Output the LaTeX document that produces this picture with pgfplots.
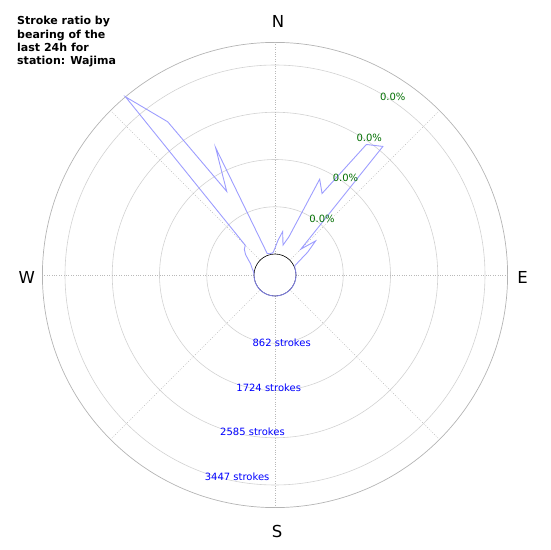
\documentclass[border=0pt]{standalone}
\usepackage{fontspec}
\setmainfont{DejaVu Sans}
\usepackage{pgfplots}
\usepackage{pgfplotstable}
\pgfplotsset{compat=1.18}
\definecolor{lineblue}{RGB}{140,140,255}
\definecolor{lblgreen}{RGB}{0,110,0}
\definecolor{ringgray}{RGB}{210,210,210}
\definecolor{outergray}{RGB}{180,180,180}
\definecolor{spokegray}{RGB}{185,185,185}

% bearing (deg) and stroke count per bearing bin
\pgfplotstableread{
b s
0 109
5 255
10 420
15 182
20 357
25 1545
30 1333
35 2523
40 2678
45 285
50 584
55 347
60 128
65 18
70 0
75 0
80 0
85 0
90 0
95 0
100 0
105 0
110 0
115 0
120 0
125 0
130 0
135 0
140 0
145 0
150 0
155 0
160 0
165 0
170 0
175 0
180 0
185 0
190 0
195 0
200 0
205 0
210 0
215 0
220 0
225 0
230 0
235 0
240 0
245 0
250 0
255 0
260 0
265 0
270 0
275 4
280 18
285 46
290 73
295 109
300 182
305 274
310 347
315 383
320 3860
325 3028
330 1377
335 2180
340 36
345 18
350 18
355 26
360 109
}\strokes

\begin{document}
\begin{tikzpicture}
\useasboundingbox (0,0) rectangle (550pt,550pt);
\begin{axis}[
  at={(0,0)}, anchor=south west,
  scale only axis, width=550pt, height=550pt,
  xmin=-275, xmax=275, ymin=-275, ymax=275,
  hide axis, clip=false,
]
% grid rings
\foreach \r in {68.25,115.5,162.75,210} {
  \edef\tmp{\noexpand\draw[ringgray, line width=0.6pt] (axis cs:0,0) circle[radius=\r];}\tmp
}
\draw[outergray, line width=0.7pt] (axis cs:0,0) circle[radius=232.6];
% spokes
\foreach \a in {0,45,...,315} {
  \edef\tmp{\noexpand\draw[spokegray, line width=0.45pt, dash pattern=on 0.8pt off 1.6pt]
    (axis cs:{21*sin(\a)},{21*cos(\a)}) -- (axis cs:{232.6*sin(\a)},{232.6*cos(\a)});}\tmp
}
% hole
\draw[black, line width=0.6pt] (axis cs:0,0) circle[radius=21];
% data
\addplot[lineblue, line width=0.9pt, mark=none, opacity=0.85]
  table[x expr={(21+0.05483*\thisrow{s})*sin(\thisrow{b})},
        y expr={(21+0.05483*\thisrow{s})*cos(\thisrow{b})}] {\strokes};
% compass labels
\node[inner sep=0, font=\fontsize{16.5}{18}\selectfont] at (axis cs:3,253.6) {N};
\node[inner sep=0, font=\fontsize{16.5}{18}\selectfont] at (axis cs:2,-256.4) {S};
\node[inner sep=0, font=\fontsize{16.5}{18}\selectfont] at (axis cs:-248.3,-2) {W};
\node[inner sep=0, font=\fontsize{16.5}{18}\selectfont] at (axis cs:247.6,-2) {E};
% percentage labels
\node[inner sep=0, text=lblgreen, font=\fontsize{10}{12}\selectfont] at (axis cs:117.8,178.5) {0.0\%};
\node[inner sep=0, text=lblgreen, font=\fontsize{10}{12}\selectfont] at (axis cs:94.3,137.5) {0.0\%};
\node[inner sep=0, text=lblgreen, font=\fontsize{10}{12}\selectfont] at (axis cs:70.5,96.8) {0.0\%};
\node[inner sep=0, text=lblgreen, font=\fontsize{10}{12}\selectfont] at (axis cs:47,55.8) {0.0\%};
% stroke labels
\node[inner sep=0, text=blue, font=\fontsize{10}{12}\selectfont] at (axis cs:6.7,-67.7) {862 strokes};
\node[inner sep=0, text=blue, font=\fontsize{10}{12}\selectfont] at (axis cs:-6.3,-112.6) {1724 strokes};
\node[inner sep=0, text=blue, font=\fontsize{10}{12}\selectfont] at (axis cs:-22.5,-156.8) {2585 strokes};
\node[inner sep=0, text=blue, font=\fontsize{10}{12}\selectfont] at (axis cs:-37.9,-201.3) {3447 strokes};
% title
\node[inner sep=0, anchor=base west, font=\bfseries\fontsize{11}{13.2}\selectfont] at (axis cs:-258,250) {Stroke ratio by};
\node[inner sep=0, anchor=base west, font=\bfseries\fontsize{11}{13.2}\selectfont] at (axis cs:-258,236.8) {bearing of the};
\node[inner sep=0, anchor=base west, font=\bfseries\fontsize{11}{13.2}\selectfont] at (axis cs:-258,223.6) {last 24h for};
\node[inner sep=0, anchor=base west, font=\bfseries\fontsize{11}{13.2}\selectfont] at (axis cs:-258,210.4) {station: Wajima};
\end{axis}
\end{tikzpicture}
\end{document}
